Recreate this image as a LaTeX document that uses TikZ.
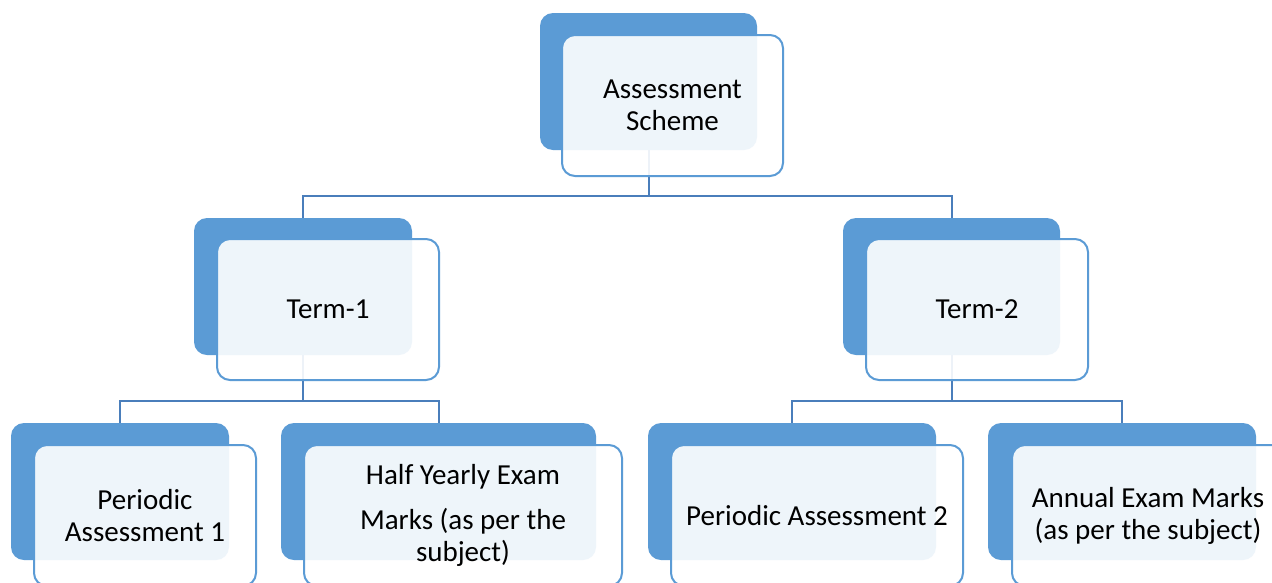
\documentclass[tikz,border=0pt]{standalone}
\usepackage{fontspec}
\setmainfont{Carlito}
\definecolor{boxblue}{HTML}{5B9BD5}
\definecolor{connblue}{HTML}{4A7EBB}
\tikzset{
  backbox/.style={rounded corners=13pt, fill=boxblue, draw=none, inner sep=0pt, outer sep=0pt, minimum height=137pt},
  frontbox/.style={rounded corners=13pt, fill=white, fill opacity=0.9, text opacity=1, draw=boxblue, line width=2pt, inner sep=0pt, outer sep=0pt, minimum height=141pt, align=center, font=\fontsize{29}{32}\selectfont},
  conn/.style={draw=connblue, line width=2pt}
}
\begin{document}
\begin{tikzpicture}[x=1pt,y=-1pt]
\useasboundingbox (0,0) rectangle (1272,582);
\clip (0,0) rectangle (1272,582);
\fill[white] (0,0) rectangle (1272,582);
% back boxes (positions)
\coordinate (topc) at (648.5,81.5);
\coordinate (t1c) at (303,286.5);
\coordinate (t2c) at (951.5,286.5);
\coordinate (p1c) at (120,491.5);
\coordinate (hyc) at (438.5,491.5);
\coordinate (p2c) at (792,491.5);
\coordinate (anc) at (1122,491.5);
\coordinate (bus1) at (648.5,196);
\coordinate (bus2) at (303,401);
\coordinate (bus3) at (951.5,401);
% connectors
\draw[conn] (topc) -- (bus1) -| (t1c);
\draw[conn] (bus1) -| (t2c);
\draw[conn] (t1c) -- (bus2) -| (p1c);
\draw[conn] (bus2) -| (hyc);
\draw[conn] (t2c) -- (bus3) -| (p2c);
\draw[conn] (bus3) -| (anc);
% nodes
\node[backbox, minimum width=217pt] (topb) at (topc) {};
\node[frontbox, minimum width=221pt] (topf) at (672.5,105.5) {Assessment\\Scheme};
\node[backbox, minimum width=218pt] (t1b) at (t1c) {};
\node[frontbox, minimum width=222pt] (t1f) at (328,309.5) {Term-1};
\node[backbox, minimum width=217pt] (t2b) at (t2c) {};
\node[frontbox, minimum width=222pt] (t2f) at (977,309.5) {Term-2};
\node[backbox, minimum width=218pt] (p1b) at (p1c) {};
\node[frontbox, minimum width=222pt] (p1f) at (145,515.5) {Periodic\\Assessment 1};
\node[backbox, minimum width=315pt] (hyb) at (hyc) {};
\node[frontbox, minimum width=318pt] (hyf) at (463,515.5) {Half Yearly Exam\\[13pt]Marks (as per the\\subject)};
\node[backbox, minimum width=288pt] (p2b) at (p2c) {};
\node[frontbox, minimum width=292pt] (p2f) at (817,515.5) {Periodic Assessment 2};
\node[backbox, minimum width=268pt] (anb) at (anc) {};
\node[frontbox, minimum width=272pt] (anf) at (1148,515.5) {Annual Exam Marks\\(as per the subject)};
\end{tikzpicture}
\end{document}
